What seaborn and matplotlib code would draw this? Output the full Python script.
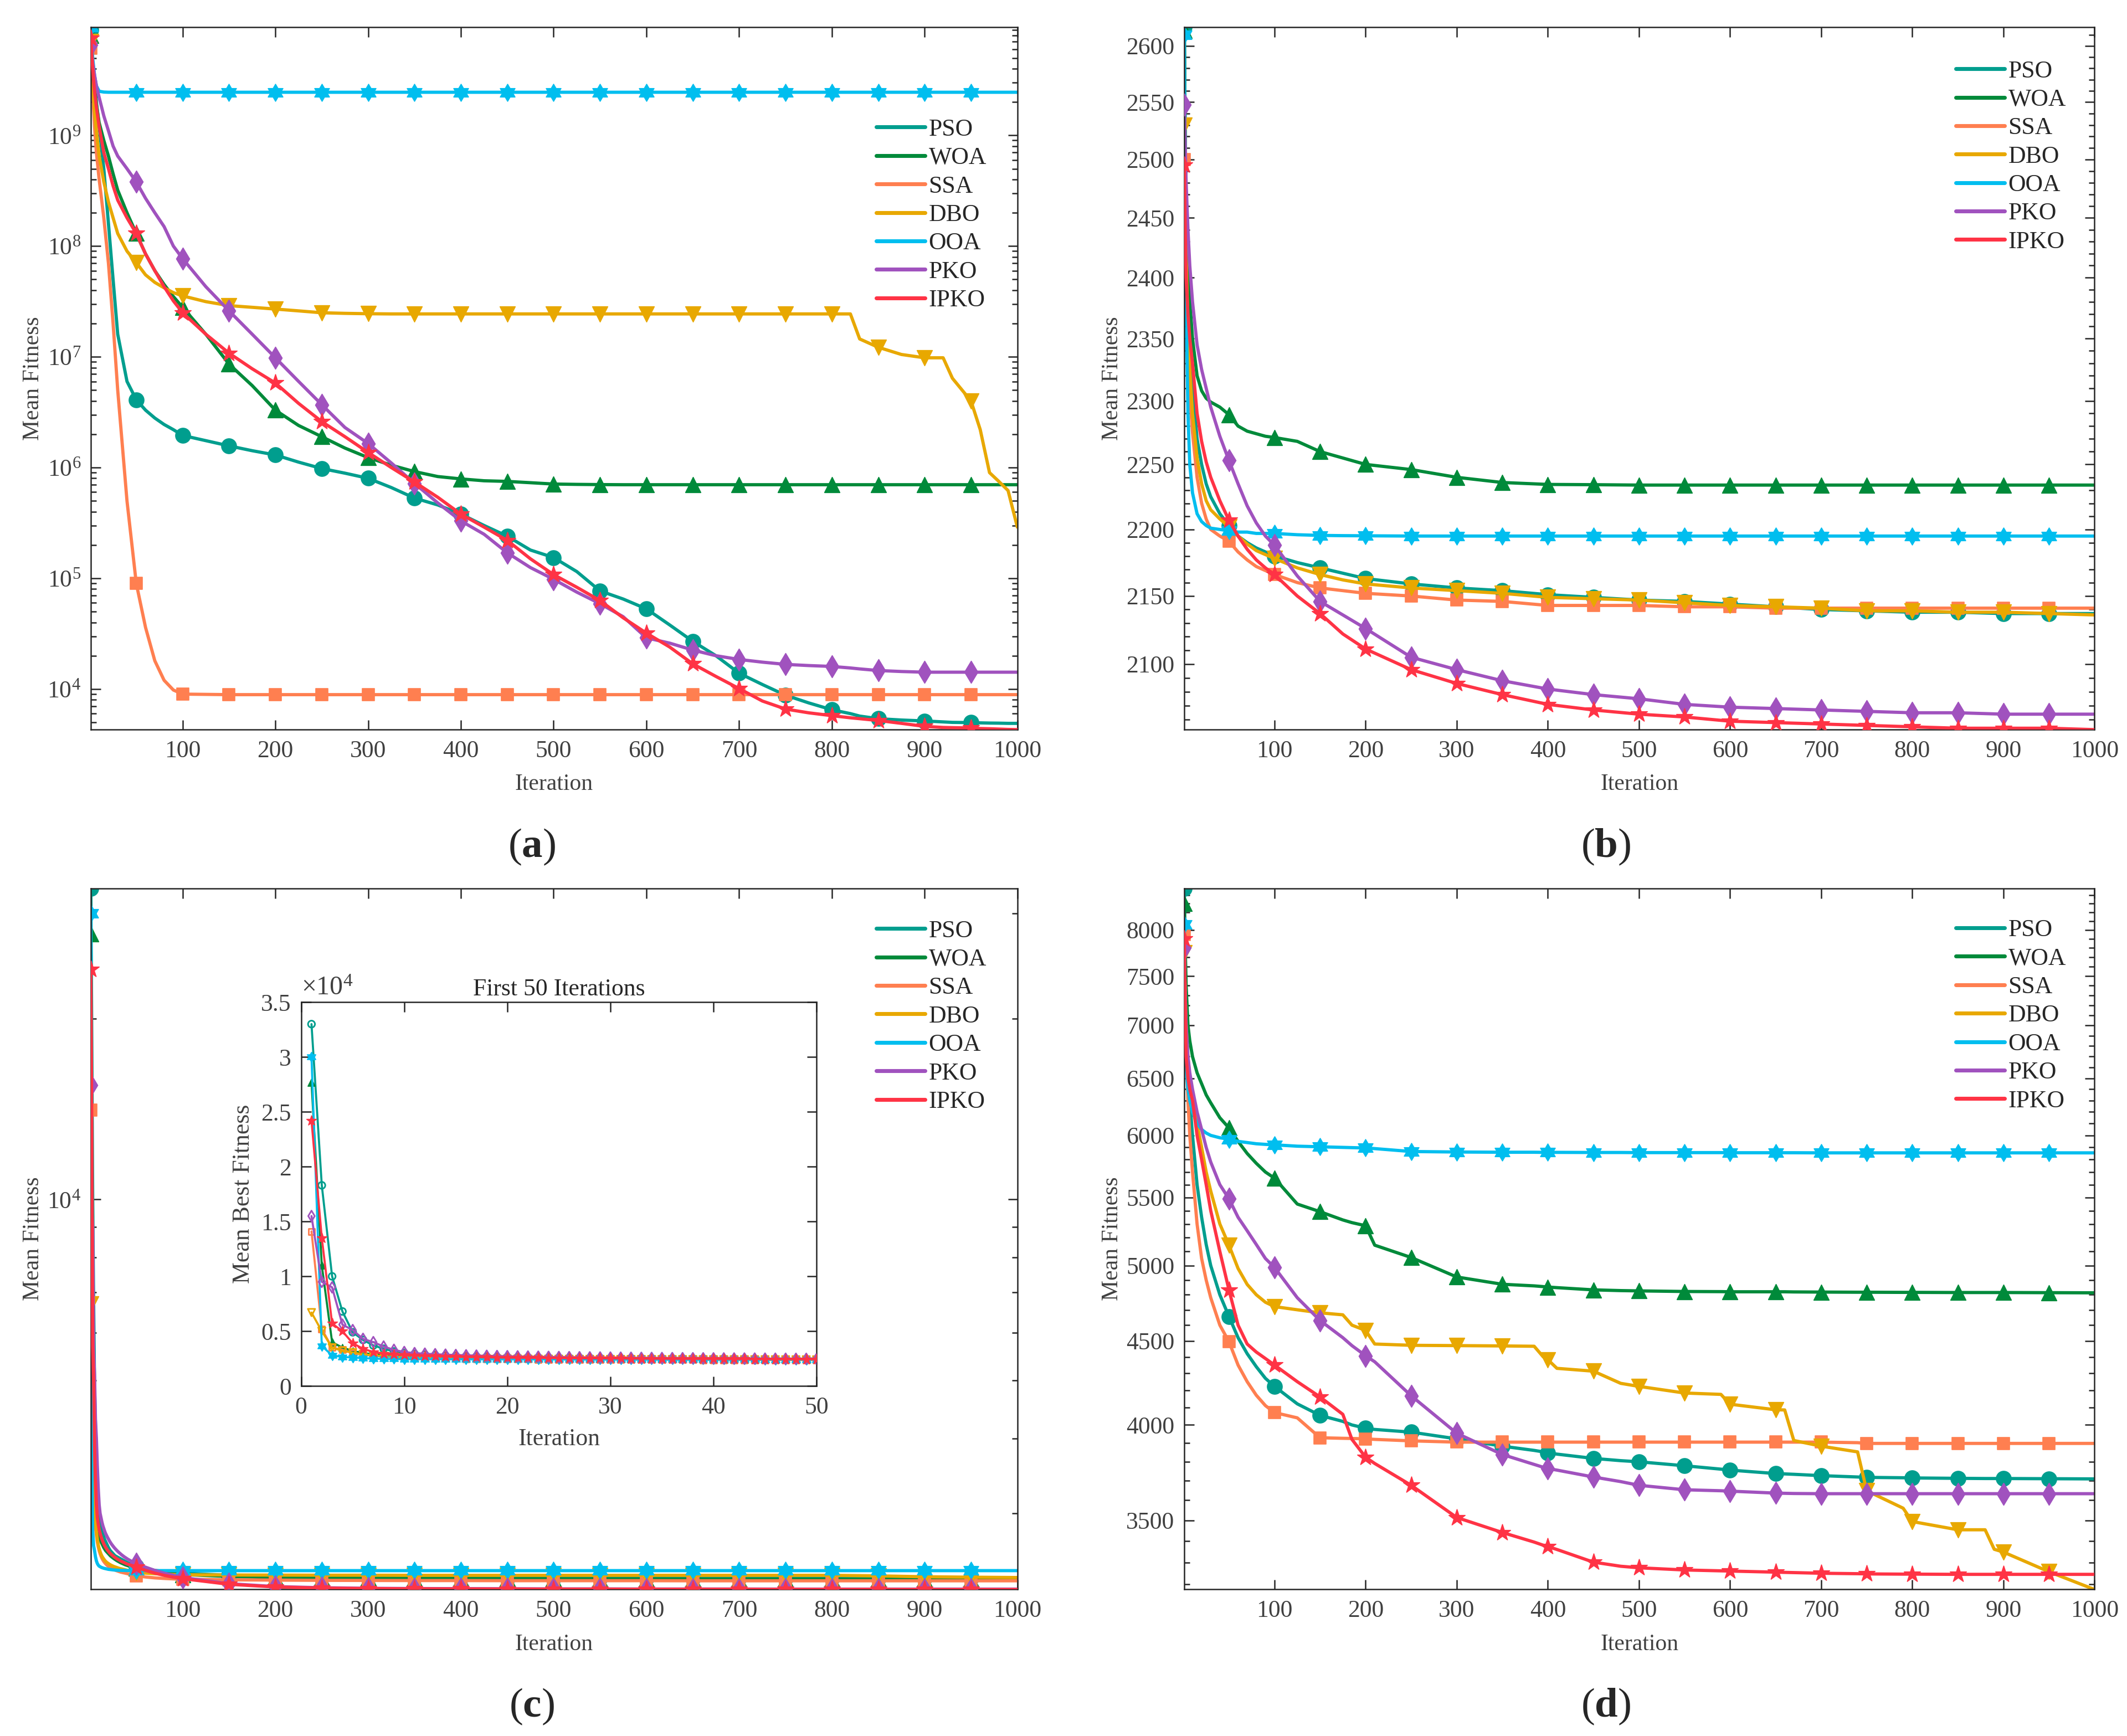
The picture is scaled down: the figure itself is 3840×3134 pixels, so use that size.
import numpy as np
import pandas as pd
import matplotlib
matplotlib.use("Agg")
import matplotlib.pyplot as plt
import seaborn as sns
from matplotlib.lines import Line2D
from matplotlib.path import Path
from matplotlib.ticker import (FixedLocator, NullFormatter, FuncFormatter,
                               LogLocator)

# ------------------------------------------------------------------ data
ALGS = ["PSO", "WOA", "SSA", "DBO", "OOA", "PKO", "IPKO"]
MARK_ITERS = [1, 50, 100, 150, 200, 250, 300, 350, 400, 450, 500,
              550, 600, 650, 700, 750, 800, 850, 900, 950]

# ---- panel (a)
A_IT = [1, 2, 3, 5, 7, 10, 15, 20, 25, 30,
        40, 50, 60, 70, 80, 90, 100,
        125, 150, 175, 200, 225, 250, 275, 300, 325, 350, 375, 400, 425, 450,
        475, 500, 525, 550, 575, 600, 625, 650, 675, 700, 725, 750, 775, 800,
        820, 830, 850, 875, 900, 920, 930, 950, 960, 970, 980, 990, 1000]
A_PSO = [9.0e9, 6.5e9, 4.5e9, 3.0e9, 2.0e9, 1.2e9, 5.0e8, 1.6e8, 5.0e7, 1.6e7,
         6.0e6, 4.1e6, 3.3e6, 2.8e6, 2.45e6, 2.2e6, 1.95e6,
         1.75e6, 1.57e6, 1.42e6, 1.3e6, 1.12e6, 9.8e5, 8.9e5, 8.0e5, 6.6e5, 5.3e5,
         4.6e5, 3.8e5, 3.0e5, 2.4e5, 1.8e5, 1.54e5, 1.15e5, 7.7e4, 6.5e4, 5.3e4,
         3.8e4, 2.7e4, 2.0e4, 1.39e4, 1.1e4, 8.8e3, 7.5e3, 6.5e3,
         6.0e3, 5.7e3, 5.4e3, 5.25e3, 5.15e3, 5.05e3, 5.0e3, 4.98e3, 4.95e3, 4.93e3,
         4.92e3, 4.9e3, 4.9e3]
A_WOA = [8.0e9, 6.0e9, 4.5e9, 2.8e9, 1.9e9, 1.3e9, 9.0e8, 6.5e8, 4.5e8, 3.2e8,
         2.0e8, 1.3e8, 8.5e7, 6.0e7, 4.5e7, 3.5e7, 2.8e7,
         1.6e7, 8.6e6, 5.5e6, 3.3e6, 2.4e6, 1.9e6, 1.5e6, 1.23e6, 1.05e6, 9.2e5,
         8.3e5, 7.9e5, 7.6e5, 7.5e5, 7.3e5, 7.1e5, 7.05e5, 7.02e5, 7.0e5, 7.0e5,
         7.0e5, 7.0e5, 7.0e5, 7.0e5, 7.0e5, 7.0e5, 7.0e5, 7.0e5,
         7.0e5, 7.0e5, 7.0e5, 7.0e5, 7.0e5, 7.0e5, 7.0e5, 7.0e5, 7.0e5, 7.0e5,
         7.0e5, 7.0e5, 7.0e5]
A_SSA = [6.1e9, 4.0e9, 2.5e9, 1.2e9, 7.0e8, 4.0e8, 1.8e8, 7.0e7, 2.0e7, 5.0e6,
         5.0e5, 9.0e4, 3.6e4, 1.8e4, 1.2e4, 9.8e3, 9.0e3,
         8.95e3, 8.9e3, 8.9e3, 8.9e3, 8.9e3, 8.9e3, 8.9e3, 8.9e3, 8.9e3, 8.9e3,
         8.9e3, 8.9e3, 8.9e3, 8.9e3, 8.9e3, 8.9e3, 8.9e3, 8.9e3, 8.9e3, 8.9e3,
         8.9e3, 8.9e3, 8.9e3, 8.9e3, 8.9e3, 8.9e3, 8.9e3, 8.9e3,
         8.9e3, 8.9e3, 8.9e3, 8.9e3, 8.9e3, 8.9e3, 8.9e3, 8.9e3, 8.9e3, 8.9e3,
         8.9e3, 8.9e3, 8.9e3]
A_DBO = [7.0e9, 4.5e9, 3.0e9, 1.7e9, 1.1e9, 6.5e8, 3.8e8, 2.5e8, 1.8e8, 1.3e8,
         9.0e7, 7.1e7, 5.5e7, 4.7e7, 4.2e7, 3.8e7, 3.55e7,
         3.15e7, 2.9e7, 2.8e7, 2.7e7, 2.6e7, 2.5e7, 2.47e7, 2.45e7, 2.44e7, 2.44e7,
         2.44e7, 2.44e7, 2.44e7, 2.44e7, 2.44e7, 2.44e7, 2.44e7, 2.44e7, 2.44e7, 2.44e7,
         2.44e7, 2.44e7, 2.44e7, 2.44e7, 2.44e7, 2.44e7, 2.44e7, 2.44e7,
         2.44e7, 1.45e7, 1.22e7, 1.05e7, 9.8e6, 9.8e6, 6.4e6, 4.0e6, 2.2e6, 9.0e5,
         7.5e5, 6.2e5, 2.9e5]
A_OOA = [9.5e9, 7.0e9, 5.0e9, 3.5e9, 2.8e9, 2.5e9, 2.46e9, 2.45e9, 2.45e9, 2.45e9,
         2.45e9, 2.45e9, 2.45e9, 2.45e9, 2.45e9, 2.45e9, 2.45e9,
         2.45e9, 2.45e9, 2.45e9, 2.45e9, 2.45e9, 2.45e9, 2.45e9, 2.45e9, 2.45e9, 2.45e9,
         2.45e9, 2.45e9, 2.45e9, 2.45e9, 2.45e9, 2.45e9, 2.45e9, 2.45e9, 2.45e9, 2.45e9,
         2.45e9, 2.45e9, 2.45e9, 2.45e9, 2.45e9, 2.45e9, 2.45e9, 2.45e9,
         2.45e9, 2.45e9, 2.45e9, 2.45e9, 2.45e9, 2.45e9, 2.45e9, 2.45e9, 2.45e9, 2.45e9,
         2.45e9, 2.45e9, 2.45e9]
A_PKO = [6.6e9, 5.5e9, 4.5e9, 3.5e9, 2.8e9, 2.2e9, 1.5e9, 1.1e9, 8.0e8, 6.5e8,
         5.0e8, 3.8e8, 2.7e8, 2.0e8, 1.5e8, 1.0e8, 7.7e7,
         4.3e7, 2.6e7, 1.6e7, 9.8e6, 6.0e6, 3.7e6, 2.3e6, 1.65e6, 1.1e6, 7.2e5,
         4.8e5, 3.3e5, 2.5e5, 1.7e5, 1.25e5, 9.8e4, 7.5e4, 5.9e4, 4.5e4, 2.9e4,
         2.6e4, 2.25e4, 2.0e4, 1.85e4, 1.75e4, 1.67e4, 1.63e4, 1.6e4,
         1.55e4, 1.52e4, 1.47e4, 1.44e4, 1.42e4, 1.42e4, 1.42e4, 1.42e4, 1.42e4, 1.42e4,
         1.42e4, 1.42e4, 1.42e4]
A_IPKO = [7.5e9, 5.5e9, 4.0e9, 2.5e9, 1.8e9, 1.2e9, 7.0e8, 5.0e8, 3.5e8, 2.6e8,
          1.8e8, 1.3e8, 8.5e7, 6.0e7, 4.3e7, 3.2e7, 2.5e7,
          1.6e7, 1.08e7, 7.8e6, 5.8e6, 3.8e6, 2.6e6, 1.9e6, 1.37e6, 1.0e6, 7.4e5,
          5.4e5, 3.8e5, 2.9e5, 2.2e5, 1.5e5, 1.08e5, 8.3e4, 6.3e4, 4.4e4, 3.2e4,
          2.4e4, 1.69e4, 1.3e4, 1.01e4, 7.8e3, 6.6e3, 6.1e3, 5.75e3,
          5.5e3, 5.4e3, 5.2e3, 4.9e3, 4.6e3, 4.5e3, 4.48e3, 4.45e3, 4.4e3, 4.38e3,
          4.35e3, 4.32e3, 4.3e3]

# ---- panel (b)
B_IT = [1, 2, 3, 5, 7, 10, 15, 20, 25, 30, 40, 50, 60, 70, 80, 90, 100,
        125, 150, 175, 200,
        250, 300, 350, 400, 450, 500, 550, 600, 650, 700, 750, 800, 850, 900, 950, 1000]
B_PSO = [2617, 2520, 2450, 2380, 2345, 2310, 2270, 2250, 2235, 2225, 2212, 2203,
         2195, 2190, 2186, 2183, 2180, 2175, 2171, 2167, 2163,
         2159, 2156, 2154, 2151, 2149, 2147, 2146, 2144, 2142, 2140, 2139, 2138,
         2138, 2137, 2137, 2137]
B_WOA = [2614, 2520, 2460, 2410, 2380, 2350, 2320, 2308, 2302, 2299, 2295, 2289,
         2280, 2276, 2274, 2272, 2271, 2268, 2260, 2255, 2250,
         2246, 2240, 2236, 2234.5, 2234.3, 2234, 2234, 2234, 2234, 2234, 2234,
         2234, 2234, 2234, 2234, 2234]
B_SSA = [2500, 2440, 2400, 2340, 2305, 2275, 2240, 2220, 2208, 2200, 2195, 2191,
         2183, 2177, 2172, 2169, 2166, 2160, 2156, 2154, 2152,
         2150, 2147, 2146, 2143, 2143, 2143, 2142, 2142, 2141, 2141, 2141, 2141,
         2141, 2141, 2141, 2141]
B_DBO = [2530, 2460, 2420, 2360, 2325, 2290, 2255, 2235, 2222, 2215, 2208, 2202,
         2195, 2189, 2184, 2181, 2178, 2171, 2166, 2162, 2159,
         2156, 2154, 2152, 2149, 2148, 2147, 2145, 2143, 2142, 2141, 2139, 2139,
         2138, 2138, 2137, 2136]
B_OOA = [2610, 2480, 2380, 2290, 2250, 2228, 2212, 2206, 2203, 2201, 2200, 2199,
         2198, 2198, 2197, 2197, 2197, 2196, 2195.5, 2195.3, 2195.2,
         2195, 2195, 2195, 2195, 2195, 2195, 2195, 2195, 2195, 2195, 2195, 2195,
         2195, 2195, 2195, 2195]
B_PKO = [2548, 2510, 2480, 2440, 2410, 2380, 2345, 2325, 2310, 2295, 2272, 2253,
         2235, 2218, 2205, 2195, 2188, 2165, 2146, 2136, 2126,
         2105, 2096, 2088, 2082, 2078, 2075, 2071, 2069, 2068, 2067, 2066, 2065,
         2065, 2064, 2064, 2064]
B_IPKO = [2495, 2440, 2400, 2370, 2350, 2330, 2290, 2268, 2252, 2240, 2222, 2207,
          2195, 2185, 2177, 2171, 2166, 2150, 2137, 2122, 2111,
          2096, 2086, 2078, 2071, 2067, 2064, 2062, 2059, 2058, 2057, 2056, 2055,
          2054, 2054, 2054, 2053]

# ---- panel (c)  (every iteration 1..50, then coarser)
C_IT = list(range(1, 51)) + [60, 70, 80, 90] + list(range(100, 1001, 50))
C_PSO = [33000, 18300, 10000, 6800, 4900, 4200, 3700, 3400, 3150, 3000,
         2920, 2860, 2810, 2770, 2740, 2710, 2690, 2670, 2650, 2630,
         2615, 2600, 2590, 2580, 2570, 2560, 2550, 2545, 2540, 2535,
         2530, 2525, 2520, 2515, 2510, 2505, 2500, 2495, 2490, 2485,
         2480, 2476, 2472, 2468, 2464, 2460, 2456, 2452, 2448, 2445,
         2425, 2410, 2400, 2392,
         2385, 2365, 2355, 2350, 2347, 2345, 2343, 2342, 2341, 2340,
         2340, 2339, 2339, 2339, 2338, 2338, 2338, 2338, 2338]
C_WOA = [27700, 11000, 4000, 3500, 3200, 3000, 2900, 2840, 2790, 2750,
         2720, 2690, 2670, 2650, 2630, 2615, 2600, 2590, 2580, 2570,
         2560, 2550, 2542, 2535, 2528, 2521, 2515, 2509, 2503, 2498,
         2493, 2488, 2483, 2479, 2475, 2471, 2467, 2463, 2460, 2457,
         2454, 2451, 2448, 2445, 2442, 2440, 2437, 2435, 2433, 2430,
         2410, 2395, 2385, 2378,
         2372, 2355, 2346, 2341, 2338, 2336, 2335, 2334, 2333, 2332,
         2332, 2331, 2331, 2331, 2330, 2330, 2330, 2330, 2330]
C_SSA = [14100, 5200, 3500, 3300, 3000, 2850, 2760, 2690, 2640, 2600,
         2570, 2545, 2525, 2508, 2494, 2482, 2472, 2463, 2455, 2448,
         2442, 2436, 2431, 2426, 2422, 2418, 2414, 2410, 2407, 2404,
         2401, 2398, 2395, 2393, 2391, 2389, 2387, 2385, 2383, 2381,
         2379, 2377, 2375, 2373, 2371, 2369, 2367, 2365, 2363, 2361,
         2350, 2342, 2337, 2333,
         2330, 2325, 2322, 2320, 2319, 2318, 2318, 2317, 2317, 2317,
         2317, 2316, 2316, 2316, 2316, 2316, 2316, 2316, 2316]
C_DBO = [6700, 5000, 3500, 3200, 3050, 2900, 2800, 2720, 2660, 2620,
         2590, 2565, 2545, 2530, 2517, 2505, 2495, 2487, 2480, 2474,
         2468, 2463, 2458, 2454, 2450, 2446, 2443, 2440, 2437, 2434,
         2431, 2428, 2426, 2424, 2422, 2420, 2418, 2416, 2414, 2412,
         2410, 2408, 2406, 2404, 2402, 2400, 2398, 2396, 2394, 2392,
         2385, 2380, 2376, 2372,
         2370, 2368, 2367, 2366, 2366, 2365, 2365, 2365, 2365, 2365,
         2365, 2365, 2365, 2365, 2365, 2360, 2352, 2348, 2345]
C_OOA = [30000, 3650, 2800, 2650, 2600, 2540, 2500, 2475, 2460, 2450,
         2445, 2440, 2436, 2433, 2430, 2428, 2426, 2424, 2422, 2420,
         2419, 2418, 2417, 2416, 2415, 2414, 2413, 2413, 2412, 2412,
         2411, 2411, 2411, 2410, 2410, 2410, 2410, 2410, 2409, 2409,
         2409, 2409, 2409, 2409, 2408, 2408, 2408, 2408, 2408, 2408,
         2408, 2408, 2408, 2408,
         2408, 2408, 2408, 2408, 2408, 2408, 2408, 2408, 2408, 2408,
         2408, 2408, 2408, 2408, 2408, 2408, 2408, 2408, 2408]
C_PKO = [15500, 9500, 9000, 5600, 5100, 4300, 4000, 3600, 3300, 3100,
         3000, 2950, 2900, 2860, 2830, 2800, 2775, 2755, 2735, 2718,
         2700, 2685, 2670, 2657, 2645, 2633, 2622, 2612, 2602, 2593,
         2584, 2576, 2568, 2560, 2553, 2546, 2539, 2533, 2527, 2521,
         2515, 2510, 2505, 2500, 2495, 2490, 2485, 2481, 2477, 2473,
         2440, 2410, 2385, 2365,
         2345, 2290, 2265, 2255, 2250, 2248, 2247, 2246, 2245, 2245,
         2244, 2244, 2244, 2243, 2243, 2243, 2243, 2243, 2243]
C_IPKO = [24200, 13500, 5700, 5000, 3900, 3400, 3100, 2950, 2880, 2820,
          2780, 2745, 2715, 2690, 2668, 2650, 2633, 2618, 2605, 2593,
          2582, 2572, 2563, 2555, 2547, 2540, 2533, 2527, 2521, 2515,
          2510, 2505, 2500, 2495, 2491, 2487, 2483, 2479, 2475, 2471,
          2468, 2465, 2462, 2459, 2456, 2453, 2450, 2447, 2444, 2441,
          2410, 2385, 2365, 2348,
          2335, 2285, 2262, 2252, 2248, 2246, 2245, 2244, 2243, 2243,
          2242, 2242, 2242, 2241, 2241, 2241, 2240, 2240, 2240]

# ---- panel (d)
D_IT = [1, 2, 3, 5, 7, 10, 15, 20, 25, 30,
        40, 50, 60, 70, 80, 90, 100, 125, 150, 175,
        185, 200, 210, 250, 300, 350, 385, 395, 400, 410,
        450, 480, 500, 550, 590, 600, 650, 660, 670, 700,
        740, 750, 790, 800, 850, 880, 890, 900, 950, 1000]
D_PSO = [8480, 7600, 7100, 6600, 6300, 6000, 5600, 5350, 5150, 5000,
         4800, 4656, 4520, 4420, 4340, 4270, 4222, 4120, 4054, 4020,
         4000, 3982, 3975, 3960, 3923, 3883, 3860, 3852, 3847, 3840,
         3817, 3805, 3799, 3778, 3760, 3755, 3737, 3735, 3733, 3726,
         3719, 3717, 3715, 3714, 3712, 3711, 3711, 3711, 3710, 3709]
D_WOA = [8300, 7800, 7400, 7000, 6850, 6700, 6550, 6450, 6350, 6280,
         6150, 6063, 5950, 5850, 5770, 5700, 5651, 5450, 5392, 5330,
         5310, 5287, 5145, 5057, 4921, 4871, 4860, 4855, 4852, 4848,
         4833, 4828, 4826, 4822, 4821, 4820, 4820, 4820, 4819, 4818,
         4817, 4817, 4816, 4816, 4815, 4815, 4815, 4815, 4814, 4813]
D_SSA = [7950, 7200, 6800, 6300, 6000, 5700, 5300, 5050, 4900, 4780,
         4600, 4495, 4350, 4250, 4170, 4110, 4070, 4040, 3929, 3926,
         3925, 3923, 3920, 3912, 3905, 3905, 3905, 3905, 3905, 3905,
         3905, 3905, 3905, 3905, 3905, 3905, 3905, 3905, 3905, 3905,
         3902, 3898, 3898, 3898, 3898, 3898, 3898, 3898, 3898, 3898]
D_DBO = [7750, 7300, 7000, 6700, 6500, 6300, 6100, 5900, 5700, 5550,
         5300, 5145, 4980, 4870, 4800, 4750, 4721, 4700, 4680, 4667,
         4600, 4566, 4480, 4472, 4470, 4468, 4466, 4400, 4383, 4330,
         4313, 4240, 4222, 4183, 4175, 4118, 4086, 4085, 3914, 3883,
         3852, 3648, 3560, 3494, 3454, 3454, 3361, 3348, 3257, 3177]
D_OOA = [8060, 7000, 6600, 6400, 6300, 6200, 6100, 6050, 6020, 6000,
         5980, 5968, 5950, 5940, 5930, 5925, 5921, 5910, 5905, 5900,
         5898, 5895, 5890, 5866, 5862, 5860, 5860, 5859, 5859, 5859,
         5858, 5858, 5857, 5857, 5857, 5856, 5856, 5856, 5856, 5855,
         5855, 5855, 5855, 5855, 5855, 5855, 5855, 5855, 5855, 5855]
D_PKO = [7800, 7300, 7000, 6700, 6550, 6400, 6200, 6050, 5900, 5780,
         5600, 5490, 5350, 5250, 5150, 5050, 4987, 4780, 4630, 4520,
         4470, 4407, 4370, 4167, 3954, 3838, 3785, 3770, 3763, 3755,
         3719, 3695, 3676, 3653, 3648, 3646, 3636, 3635, 3634, 3633,
         3633, 3633, 3633, 3633, 3633, 3633, 3633, 3633, 3633, 3633]
D_IPKO = [7900, 7200, 6700, 6500, 6400, 6300, 6000, 5800, 5600, 5400,
          5100, 4833, 4600, 4480, 4430, 4390, 4350, 4250, 4160, 4060,
          3920, 3823, 3790, 3676, 3514, 3441, 3395, 3380, 3374, 3360,
          3301, 3282, 3275, 3265, 3261, 3260, 3255, 3254, 3253, 3250,
          3248, 3247, 3246, 3246, 3245, 3245, 3245, 3245, 3245, 3245]

B_TICKS = [2100, 2150, 2200, 2250, 2300, 2350, 2400, 2450, 2500, 2550, 2600]
D_TICKS = [3500, 4000, 4500, 5000, 5500, 6000, 6500, 7000, 7500, 8000]
X_TICKS = [100, 200, 300, 400, 500, 600, 700, 800, 900, 1000]

PANELS = {
    "a": (A_IT, dict(zip(ALGS, [A_PSO, A_WOA, A_SSA, A_DBO, A_OOA, A_PKO, A_IPKO]))),
    "b": (B_IT, dict(zip(ALGS, [B_PSO, B_WOA, B_SSA, B_DBO, B_OOA, B_PKO, B_IPKO]))),
    "c": (C_IT, dict(zip(ALGS, [C_PSO, C_WOA, C_SSA, C_DBO, C_OOA, C_PKO, C_IPKO]))),
    "d": (D_IT, dict(zip(ALGS, [D_PSO, D_WOA, D_SSA, D_DBO, D_OOA, D_PKO, D_IPKO]))),
}
for key, (it, ser) in PANELS.items():
    for a, v in ser.items():
        assert len(v) == len(it), (key, a, len(v), len(it))

# ------------------------------------------------------------------ style
COLORS = {"PSO": "#009E8E", "WOA": "#008A3A", "SSA": "#FF7F50", "DBO": "#E8A800",
          "OOA": "#00BEEF", "PKO": "#A052BE", "IPKO": "#FF3345"}

_ang = np.deg2rad(np.arange(12) * 30.0 + 90.0)
_rad = np.where(np.arange(12) % 2 == 0, 1.0, 0.58)
_v = np.column_stack([_rad * np.cos(_ang), _rad * np.sin(_ang)])
HEXAGRAM = Path(np.vstack([_v, _v[:1]]), closed=True)

MARKERS = {"PSO": "o", "WOA": "^", "SSA": "s", "DBO": "v",
           "OOA": HEXAGRAM, "PKO": "d", "IPKO": "*"}
SIZES = {"PSO": 42, "WOA": 44, "SSA": 27, "DBO": 44, "OOA": 55, "PKO": 46, "IPKO": 55}
INSET_SIZES = {"PSO": 9, "WOA": 10, "SSA": 7, "DBO": 10, "OOA": 18, "PKO": 11, "IPKO": 20}
INSET_OPEN = {"PSO", "SSA", "DBO", "PKO"}
INK = "#262626"
TXT = "#404040"

sns.set_style("ticks")
plt.rcParams.update({
    "font.family": ["Liberation Serif", "DejaVu Serif"],
    "mathtext.fontset": "custom",
    "mathtext.rm": "Liberation Serif",
    "mathtext.it": "Liberation Serif:italic",
    "mathtext.bf": "Liberation Serif:bold",
    "axes.edgecolor": INK,
    "axes.linewidth": 0.6,
    "axes.labelcolor": TXT,
    "xtick.color": INK,
    "ytick.color": INK,
})

fig = plt.figure(figsize=(12.8, 10.4467), dpi=300)

POS = {"a": [0.0427, 0.5797, 0.4356, 0.4047],
       "b": [0.5568, 0.5797, 0.4279, 0.4047],
       "c": [0.0427, 0.0844, 0.4356, 0.4039],
       "d": [0.5568, 0.0844, 0.4279, 0.4039]}
LEG_Y = {"a": 0.870, "b": 0.953, "c": 0.955, "d": 0.956}


def style_axes(ax, fs=10.5):
    ax.tick_params(which="both", direction="in", top=True, right=True,
                   labelsize=fs, width=0.6, colors=INK, labelcolor=TXT)
    ax.tick_params(axis="x", which="major", pad=4.5)
    ax.tick_params(axis="y", which="major", pad=4.3)
    ax.tick_params(which="major", length=4.2)
    ax.tick_params(which="minor", length=2.4)
    for s in ax.spines.values():
        s.set_visible(True)
        s.set_color(INK)
        s.set_linewidth(0.6)


def draw_curves(ax, iters, series, mark_iters, sizes, lw, open_set=(), limit=None):
    for k, alg in enumerate(ALGS):
        df = pd.DataFrame({"Iteration": iters, "Fitness": series[alg]})
        if limit is not None:
            df = df[df["Iteration"] <= limit]
        z = 2 + 0.1 * k
        sns.lineplot(data=df, x="Iteration", y="Fitness", ax=ax, color=COLORS[alg],
                     linewidth=lw, estimator=None, sort=False, legend=False, zorder=z)
        mk = df[df["Iteration"].isin(mark_iters)]
        if alg in open_set:
            sns.scatterplot(data=mk, x="Iteration", y="Fitness", ax=ax,
                            color=COLORS[alg], marker=MARKERS[alg], s=sizes[alg],
                            facecolors="none", edgecolor=COLORS[alg], linewidth=0.7,
                            legend=False, zorder=z + 0.05)
        else:
            sns.scatterplot(data=mk, x="Iteration", y="Fitness", ax=ax,
                            color=COLORS[alg], marker=MARKERS[alg], s=sizes[alg],
                            edgecolor=COLORS[alg], linewidth=0.4,
                            legend=False, zorder=z + 0.05)


def sci_label(v, p):
    return r"$\mathdefault{10^{%d}}$" % int(round(np.log10(v)))


for key in ["a", "b", "c", "d"]:
    iters, series = PANELS[key]
    ax = fig.add_axes(POS[key])
    ax.set_yscale("log")
    draw_curves(ax, iters, series, MARK_ITERS, SIZES, lw=1.4)
    allv = np.concatenate([np.asarray(v, float) for v in series.values()])
    ax.set_xlim(iters[0], iters[-1])
    ax.set_ylim(allv.min(), allv.max())
    ax.xaxis.set_major_locator(FixedLocator(X_TICKS))
    ax.xaxis.set_minor_locator(FixedLocator([]))
    if key == "a":
        ax.yaxis.set_major_locator(LogLocator(base=10, numticks=30))
        ax.yaxis.set_major_formatter(FuncFormatter(sci_label))
        ax.yaxis.set_minor_locator(LogLocator(base=10, subs=np.arange(2, 10), numticks=100))
    elif key == "c":
        ax.yaxis.set_major_locator(FixedLocator([1e4]))
        ax.yaxis.set_major_formatter(FuncFormatter(sci_label))
        ax.yaxis.set_minor_locator(LogLocator(base=10, subs=np.arange(2, 10), numticks=100))
    elif key == "b":
        ax.yaxis.set_major_locator(FixedLocator(B_TICKS))
        ax.yaxis.set_major_formatter(FuncFormatter(lambda v, p: f"{v:.0f}"))
        ax.yaxis.set_minor_locator(FixedLocator(list(range(2060, 2620, 10))))
    else:
        ax.yaxis.set_major_locator(FixedLocator(D_TICKS))
        ax.yaxis.set_major_formatter(FuncFormatter(lambda v, p: f"{v:.0f}"))
        ax.yaxis.set_minor_locator(FixedLocator(list(range(3200, 8500, 100))))
    ax.yaxis.set_minor_formatter(NullFormatter())
    style_axes(ax)
    ax.set_xlabel("Iteration", fontsize=10, color=TXT, labelpad=5)
    ax.set_ylabel("Mean Fitness", fontsize=10, color=TXT, labelpad=1.5)
    handles = [Line2D([], [], color=COLORS[a], lw=1.7, label=a) for a in ALGS]
    ax.legend(handles=handles, loc="upper left", bbox_to_anchor=(0.848, LEG_Y[key]),
              frameon=False, fontsize=10.5, handlelength=2.0, handletextpad=0.15,
              labelspacing=0.26, borderpad=0, borderaxespad=0)

    if key == "c":
        ins = fig.add_axes([0.1416, 0.2016, 0.2423, 0.2211])
        ins.set_zorder(10)
        ins.set_facecolor("white")
        draw_curves(ins, iters, series, list(range(1, 51)), INSET_SIZES, lw=0.9,
                    open_set=INSET_OPEN, limit=50)
        ins.set_xlim(0, 50)
        ins.set_ylim(0, 35000)
        ins.xaxis.set_major_locator(FixedLocator([0, 10, 20, 30, 40, 50]))
        ins.yaxis.set_major_locator(FixedLocator([0, 5000, 10000, 15000, 20000,
                                                  25000, 30000, 35000]))
        ins.yaxis.set_major_formatter(FuncFormatter(lambda v, p: f"{v / 1e4:g}"))
        style_axes(ins)
        ins.set_xlabel("Iteration", fontsize=10.5, color=TXT, labelpad=4)
        ins.set_ylabel("Mean Best Fitness", fontsize=10.5, color=TXT, labelpad=3)
        ins.set_title("First 50 Iterations", fontsize=10.5, pad=3)
        ins.text(0.0, 1.004, r"$\times\mathdefault{10^{4}}$", transform=ins.transAxes,
                 ha="left", va="bottom", fontsize=11.5, color=TXT)

for lab, x, y in [("a", 0.25, 0.512), ("b", 0.755, 0.512),
                  ("c", 0.25, 0.017), ("d", 0.755, 0.017)]:
    fig.text(x, y, r"($\mathbf{%s}$)" % lab, ha="center", va="center", fontsize=18)

fig.savefig("out.png", dpi=300)
